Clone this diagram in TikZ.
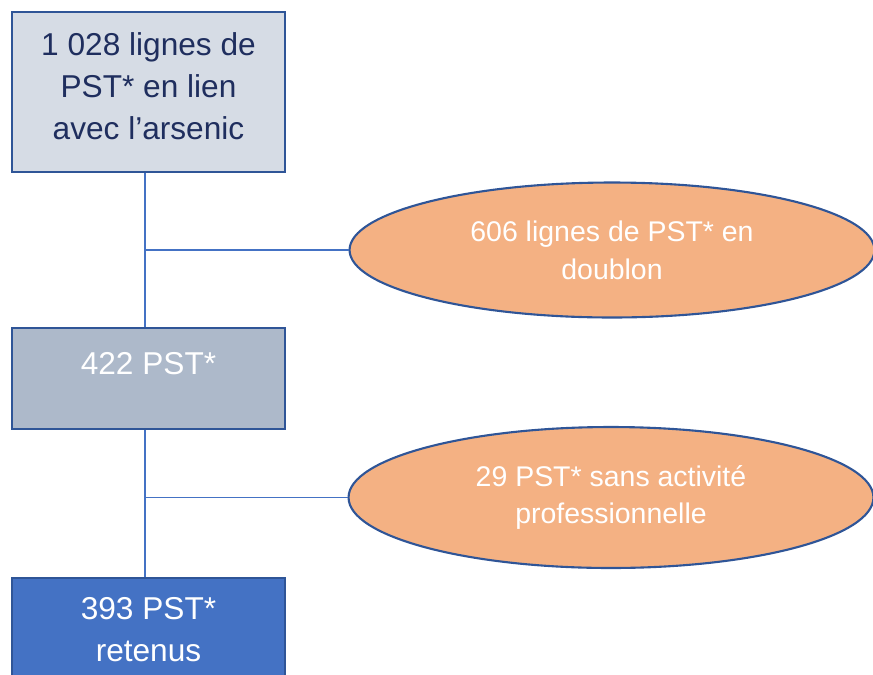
\documentclass[tikz,border=0pt]{standalone}
\usepackage{fontspec}
\setmainfont{Liberation Sans}
\usetikzlibrary{shapes.geometric}
\definecolor{bordblue}{HTML}{2F5597}
\definecolor{linkblue}{HTML}{4472C4}
\definecolor{topfill}{HTML}{D6DCE5}
\definecolor{toptext}{HTML}{1F2E5E}
\definecolor{midfill}{HTML}{ADB9CA}
\definecolor{endfill}{HTML}{4472C4}
\definecolor{dropfill}{HTML}{F4B183}

\begin{document}
\begin{tikzpicture}[x=0.02cm, y=-0.02cm,
    box/.style={rectangle, draw=bordblue, line width=1.2pt, minimum width=5.46cm,
        inner sep=0pt, align=center, font=\fontsize{18}{24}\selectfont},
    drop/.style={ellipse, draw=bordblue, line width=1.2pt, fill=dropfill, text=white,
        minimum width=10.5cm, inner sep=0pt, align=center,
        font=\fontsize{16.2}{21.5}\selectfont},
    link/.style={draw=linkblue, line width=0.6pt}]
    \useasboundingbox (0,0) rectangle (873,674);
    % boxes
    \node[box, fill=topfill, text=toptext, minimum height=3.2cm, text depth=0.24cm](all)
        at (148.5,92) {1 028 lignes de\\PST* en lien\\avec l’arsenic};
    \node[box, fill=midfill, text=white, anchor=north, text height=0.92cm,
        text depth=1.1cm](mid) at (148.5,327) {422 PST*};
    \node[box, fill=endfill, text=white, minimum height=2.06cm](kept) at (148.5,629.5)
        {393 PST*\\retenus};
    % exclusions
    \node[drop, minimum height=2.7cm](doublon) at (612,250)
        {606 lignes de PST* en\\doublon};
    \node[drop, minimum height=2.82cm](sansact) at (611,497.5)
        {29 PST* sans activité\\professionnelle};
    % spine sits a little left of the box centres
    \coordinate (j1) at ([xshift=-0.07cm]all.south |- doublon.west);
    \coordinate (j2) at ([xshift=-0.07cm]mid.south |- sansact.west);
    \path
        ([xshift=-0.07cm]all.south) edge[link] ([xshift=-0.07cm]mid.north)
        ([xshift=-0.07cm]mid.south) edge[link] ([xshift=-0.07cm]kept.north)
        (doublon.west) edge[link] (j1)
        (sansact.west) edge[link] (j2)
        ;
\end{tikzpicture}
\end{document}
